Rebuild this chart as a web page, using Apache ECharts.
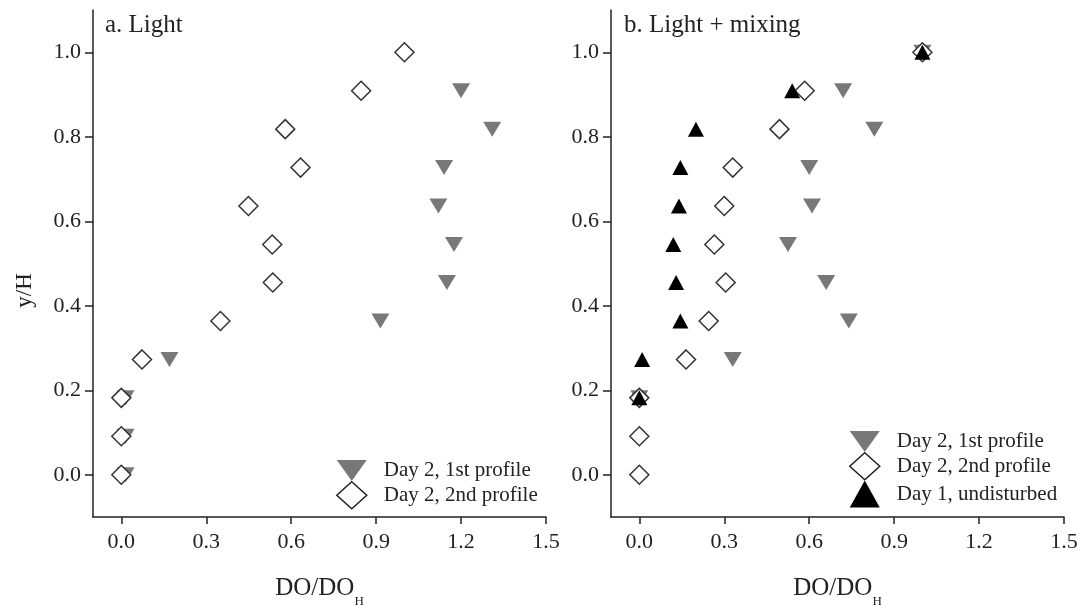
<!DOCTYPE html>
<html>
<head>
<meta charset="utf-8">
<script src="https://cdn.jsdelivr.net/npm/echarts@6/dist/echarts.min.js"></script>
<style>
  html, body { margin: 0; padding: 0; background: #fff; }
  #chart { width: 1086px; height: 605px; }
</style>
</head>
<body>
<div id="chart"></div>
<script>
// Relative depth of each sampling level (y/H)
const depthLevels = [0, 0.091, 0.182, 0.273, 0.364, 0.455, 0.545, 0.636, 0.727, 0.818, 0.909, 1.0];

// Panel a: light only — DO/DO_H at each level (null = not measured)
const lightDay2First  = [0.015, 0.015, 0.015, 0.17, 0.915, 1.15, 1.175, 1.12, 1.14, 1.31, 1.20, null];
const lightDay2Second = [0, 0, 0, 0.073, 0.35, 0.535, 0.533, 0.449, 0.633, 0.579, 0.847, 1.0];

// Panel b: light + mixing
const mixDay2First    = [null, null, 0, 0.33, 0.74, 0.66, 0.525, 0.61, 0.60, 0.83, 0.72, 1.0];
const mixDay2Second   = [0, 0, 0, 0.165, 0.245, 0.305, 0.265, 0.30, 0.33, 0.495, 0.584, 1.0];
const mixDay1Undist   = [null, null, 0, 0.01, 0.145, 0.13, 0.12, 0.14, 0.145, 0.20, 0.54, 1.0];

// Axis ticks
const xTicks = [0, 0.3, 0.6, 0.9, 1.2, 1.5];
const yTicks = [0, 0.2, 0.4, 0.6, 0.8, 1.0];

const panelTitles = ['a. Light', 'b. Light + mixing'];
const seriesNames = ['Day 2, 1st profile', 'Day 2, 2nd profile', 'Day 1, undisturbed'];

const FONT = 'Liberation Serif';
const INK = '#222';
const GRAY = '#787878';

function pairs(xs) {
  const out = [];
  xs.forEach((x, i) => { if (x !== null) out.push([x, depthLevels[i]]); });
  return out;
}

function xAxisFor(gridIndex) {
  return {
    type: 'value', gridIndex, min: -0.1, max: 1.5,
    splitLine: { show: false },
    axisLine: { show: true, onZero: false, lineStyle: { color: INK, width: 1.5 } },
    axisTick: { show: true, length: 7, lineStyle: { color: INK, width: 1.5 }, customValues: xTicks },
    axisLabel: {
      customValues: xTicks, margin: 14,
      fontFamily: FONT, fontSize: 22, color: INK,
      formatter: v => v.toFixed(1)
    },
    name: '{a|DO/DO}{b|H}',
    nameLocation: 'middle',
    nameGap: 51,
    nameTextStyle: {
      rich: {
        a: { fontFamily: FONT, fontSize: 25, color: INK, lineHeight: 40, verticalAlign: 'middle' },
        b: { fontFamily: FONT, fontSize: 13, color: INK, lineHeight: 13, verticalAlign: 'bottom' }
      }
    }
  };
}

function yAxisFor(gridIndex, withName) {
  const ax = {
    type: 'value', gridIndex, min: -0.1, max: 1.1,
    splitLine: { show: false },
    axisLine: { show: true, onZero: false, lineStyle: { color: INK, width: 1.5 } },
    axisTick: { show: true, length: 8, lineStyle: { color: INK, width: 1.5 }, customValues: yTicks },
    axisLabel: {
      customValues: yTicks, margin: 12,
      fontFamily: FONT, fontSize: 22, color: INK,
      formatter: v => v.toFixed(1)
    }
  };
  if (withName) {
    ax.name = 'y/H';
    ax.nameLocation = 'middle';
    ax.nameGap = 57;
    ax.nameTextStyle = { fontFamily: FONT, fontSize: 23, color: INK, padding: [0, 54, 0, 0] };
  }
  return ax;
}

const downTri = { symbol: 'triangle', symbolRotate: 180, symbolSize: [18, 15], itemStyle: { color: GRAY, opacity: 1 } };
const openDiamond = { symbol: 'diamond', symbolSize: 19, itemStyle: { color: '#fff', borderColor: '#333', borderWidth: 1.5, opacity: 1 } };
const upTri = { symbol: 'triangle', symbolSize: [16, 15], itemStyle: { color: '#000', opacity: 1 } };

function scatter(name, idx, data, style) {
  return Object.assign({
    type: 'scatter', name, xAxisIndex: idx, yAxisIndex: idx, data: pairs(data),
    emphasis: { disabled: true }, animation: false
  }, style);
}

const downIcon = 'path://M0,0L30,0L15,21Z';
const legendText = { fontFamily: FONT, fontSize: 21, color: INK, padding: [0, 0, 0, 12] };

const option = {
  backgroundColor: '#fff',
  animation: false,
  title: [
    { text: panelTitles[0], left: 105, top: 13, padding: 0,
      textStyle: { fontFamily: FONT, fontSize: 25, fontWeight: 'normal', color: INK } },
    { text: panelTitles[1], left: 624, top: 13, padding: 0,
      textStyle: { fontFamily: FONT, fontSize: 25, fontWeight: 'normal', color: INK } }
  ],
  grid: [
    { left: 93, right: 540, top: 10, bottom: 88, containLabel: false, outerBoundsMode: 'none' },
    { left: 611, right: 22, top: 10, bottom: 88, containLabel: false, outerBoundsMode: 'none' }
  ],
  xAxis: [xAxisFor(0), xAxisFor(1)],
  yAxis: [yAxisFor(0, true), yAxisFor(1, false)],
  legend: [
    {
      orient: 'vertical', left: 336, top: 460, itemWidth: 30, itemHeight: 27, itemGap: 0,
      padding: 0, selectedMode: false, textStyle: legendText,
      data: [
        { name: seriesNames[0], icon: downIcon, itemStyle: { color: GRAY, opacity: 1 } },
        { name: seriesNames[1], icon: 'diamond', itemStyle: { color: '#fff', borderColor: '#222', borderWidth: 1.5, opacity: 1 } }
      ]
    },
    {
      orient: 'vertical', left: 849, top: 431, itemWidth: 30, itemHeight: 27, itemGap: 0,
      padding: 0, selectedMode: false, textStyle: legendText,
      data: [
        { name: seriesNames[0], icon: downIcon, itemStyle: { color: GRAY, opacity: 1 } },
        { name: seriesNames[1], icon: 'diamond', itemStyle: { color: '#fff', borderColor: '#222', borderWidth: 1.5, opacity: 1 } },
        { name: seriesNames[2], icon: 'triangle', itemStyle: { color: '#000', opacity: 1 } }
      ]
    }
  ],
  series: [
    scatter(seriesNames[0], 0, lightDay2First, downTri),
    scatter(seriesNames[1], 0, lightDay2Second, openDiamond),
    scatter(seriesNames[0], 1, mixDay2First, downTri),
    scatter(seriesNames[1], 1, mixDay2Second, openDiamond),
    scatter(seriesNames[2], 1, mixDay1Undist, upTri)
  ]
};

const chart = echarts.init(document.getElementById('chart'), null, { renderer: 'canvas' });
chart.setOption(option);
</script>
</body>
</html>
